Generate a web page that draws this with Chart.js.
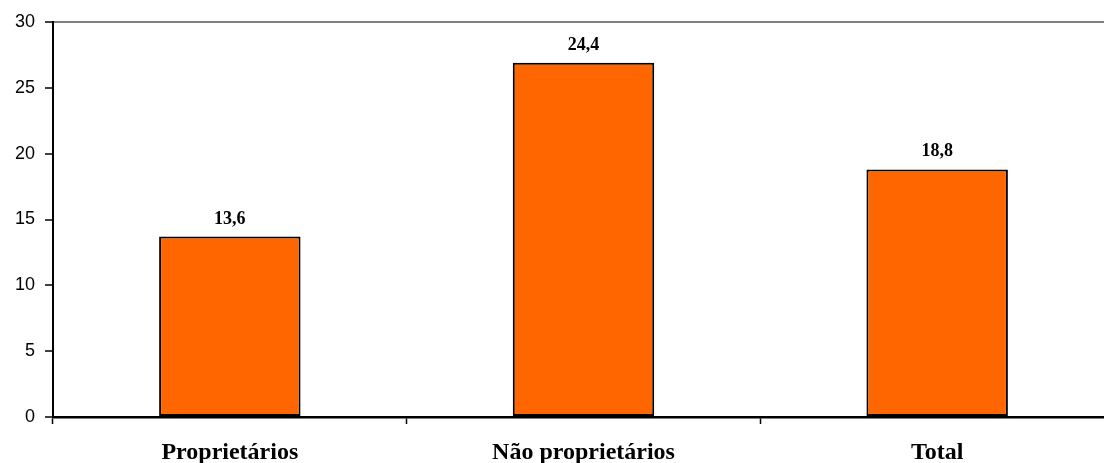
<!DOCTYPE html>
<html lang="en">
<head>
    <meta charset="utf-8">
    <title>Proprietários</title>
    <script src="https://cdn.jsdelivr.net/npm/chart.js"></script>
    <style>
        html, body { margin: 0; padding: 0; background: #fff; overflow: hidden; }
        #wrap { width: 1114px; height: 463px; }
    </style>
</head>
<body>
    <div id="wrap"><canvas id="myChart" width="1114" height="463"></canvas></div>
    <script>
        const categories = ['Proprietários', 'Não proprietários', 'Total'];
        const barValues = [13.7, 26.9, 18.8];
        const valueLabels = ['13,6', '24,4', '18,8'];
        const yTicks = [0, 5, 10, 15, 20, 25, 30];

        // draws the bold numbers above each bar
        const barLabels = {
            id: 'barLabels',
            afterDatasetsDraw(chart) {
                const ctx = chart.ctx;
                const meta = chart.getDatasetMeta(0);
                ctx.save();
                ctx.font = 'bold 18px "Liberation Serif", "Times New Roman", serif';
                ctx.fillStyle = '#000';
                ctx.textAlign = 'center';
                ctx.textBaseline = 'alphabetic';
                meta.data.forEach((bar, i) => {
                    ctx.fillText(valueLabels[i], bar.x, bar.y - 13);
                });
                ctx.restore();
            }
        };

        const ctx = document.getElementById('myChart').getContext('2d');
        new Chart(ctx, {
            type: 'bar',
            data: {
                labels: categories,
                datasets: [{
                    data: barValues,
                    backgroundColor: '#FF6600',
                    borderColor: '#000',
                    borderWidth: 2,
                    borderSkipped: false,
                    barPercentage: 0.4,
                    categoryPercentage: 1
                }]
            },
            options: {
                responsive: false,
                animation: false,
                layout: { padding: { top: 22, right: 0, left: 0, bottom: 0 } },
                plugins: { legend: { display: false }, tooltip: { enabled: false } },
                scales: {
                    x: {
                        offset: true,
                        grid: {
                            offset: true,
                            drawOnChartArea: false,
                            tickColor: '#000',
                            tickLength: 7,
                            tickWidth: 1.5
                        },
                        border: { color: '#000', width: 2.5 },
                        ticks: {
                            color: '#000',
                            padding: 14,
                            font: { family: '"Liberation Serif", "Times New Roman", serif', size: 24, weight: 'bold' }
                        },
                        afterFit(scale) { scale.height = 46; }
                    },
                    y: {
                        min: 0,
                        max: 30,
                        afterBuildTicks(scale) { scale.ticks = yTicks.map(v => ({ value: v })); },
                        grid: {
                            color: c => (c.tick && c.tick.value === 30) ? '#808080' : 'rgba(0,0,0,0)',
                            lineWidth: 2,
                            tickColor: '#000',
                            tickLength: 8,
                            tickWidth: 1.5
                        },
                        border: { color: '#000', width: 2 },
                        ticks: {
                            color: '#000',
                            padding: 10,
                            font: { family: '"Liberation Sans", Arial, sans-serif', size: 18 }
                        },
                        afterFit(scale) { scale.width = 53; }
                    }
                }
            },
            plugins: [barLabels]
        });
    </script>
</body>
</html>
